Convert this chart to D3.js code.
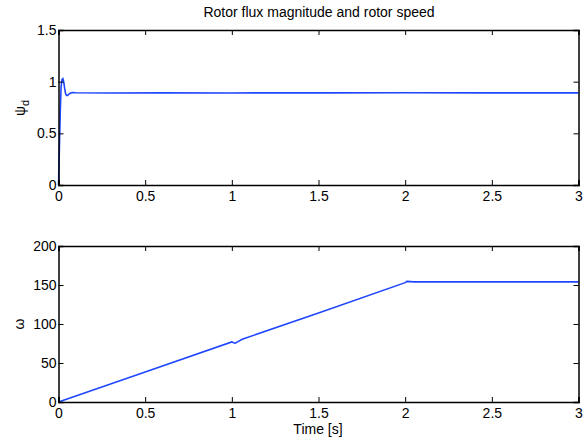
<!DOCTYPE html>
<html>
<head>
<meta charset="utf-8">
<script src="https://cdn.jsdelivr.net/npm/d3@7"></script>
<style>
  body { margin: 0; background: #fff; }
  svg { font-family: "Liberation Sans", Arial, Helvetica, sans-serif; }
</style>
</head>
<body>
<svg id="chart" width="588" height="438"></svg>
<script>
// rotor flux magnitude (psi_d) vs time
const fluxTime = [0, 0.005, 0.01, 0.015, 0.02, 0.025, 0.03, 0.035, 0.04, 0.045, 0.05, 0.055, 0.06, 0.07, 0.08, 0.1, 0.3, 0.6, 1.0, 1.5, 2.0, 2.5, 3.0];
const fluxValue = [0, 0.35, 0.7, 0.95, 1.02, 1.03, 1.0, 0.94, 0.89, 0.87, 0.865, 0.87, 0.88, 0.89, 0.895, 0.893, 0.89, 0.892, 0.891, 0.892, 0.893, 0.892, 0.892];

// rotor speed (omega) vs time
const speedTime = [0, 0.5, 1.0, 1.01, 1.02, 1.04, 1.06, 1.5, 2.0, 2.01, 2.05, 2.5, 3.0];
const speedValue = [0, 38.5, 77, 76, 75.5, 78, 80.5, 114, 153, 154.7, 154, 154, 154];

const xTicks = [0, 0.5, 1, 1.5, 2, 2.5, 3];
const fluxTicks = [0, 0.5, 1, 1.5];
const speedTicks = [0, 50, 100, 150, 200];

const svg = d3.select("#chart");
const left = 58.5, right = 578.5;
const lineColor = "#1e46ff";
const fontSize = 14;

function panel(top, bottom, yDomain, yTicks, times, values) {
    const x = d3.scaleLinear().domain([0, 3]).range([left, right]);
    const y = d3.scaleLinear().domain(yDomain).range([bottom, top]);
    const g = svg.append("g");

    const line = d3.line().x((d, i) => x(times[i])).y(d => y(d));
    g.append("path")
        .datum(values)
        .attr("d", line)
        .attr("fill", "none")
        .attr("stroke", lineColor)
        .attr("stroke-width", 1.6);

    // inward ticks on all four sides
    const tk = 5;
    g.append("g").attr("transform", `translate(0,${bottom})`)
        .call(d3.axisBottom(x).tickValues(xTicks).tickSize(-tk).tickPadding(6).tickFormat(d3.format("")));
    g.append("g").attr("transform", `translate(0,${top})`)
        .call(d3.axisTop(x).tickValues(xTicks).tickSize(-tk).tickFormat(""));
    g.append("g").attr("transform", `translate(${left},0)`)
        .call(d3.axisLeft(y).tickValues(yTicks).tickSize(-tk).tickPadding(2).tickFormat(d3.format("")));
    g.append("g").attr("transform", `translate(${right},0)`)
        .call(d3.axisRight(y).tickValues(yTicks).tickSize(-tk).tickFormat(""));

    g.selectAll(".domain").attr("stroke", "#000").attr("stroke-width", 1.5);
    g.selectAll(".tick line").attr("stroke", "#000").attr("stroke-width", 1);
    g.selectAll(".tick text").attr("font-size", fontSize).attr("fill", "#000")
        .attr("font-family", "Liberation Sans, Arial, sans-serif");

    return { g, x, y };
}

panel(30, 185, [0, 1.5], fluxTicks, fluxTime, fluxValue);
panel(246, 402, [0, 200], speedTicks, speedTime, speedValue);

// title
svg.append("text")
    .attr("x", 319).attr("y", 17)
    .attr("text-anchor", "middle")
    .attr("font-size", fontSize)
    .text("Rotor flux magnitude and rotor speed");

// y labels
const yl1 = svg.append("text")
    .attr("transform", "translate(25,108) rotate(-90)")
    .attr("text-anchor", "middle")
    .attr("font-size", fontSize);
yl1.append("tspan").text("ψ");
yl1.append("tspan").attr("font-size", 11).attr("dy", 4).text("d");

svg.append("text")
    .attr("transform", "translate(24,324) rotate(-90)")
    .attr("text-anchor", "middle")
    .attr("font-size", fontSize)
    .text("ω");

// x label
svg.append("text")
    .attr("x", 318).attr("y", 434)
    .attr("text-anchor", "middle")
    .attr("font-size", fontSize)
    .text("Time [s]");
</script>
</body>
</html>
